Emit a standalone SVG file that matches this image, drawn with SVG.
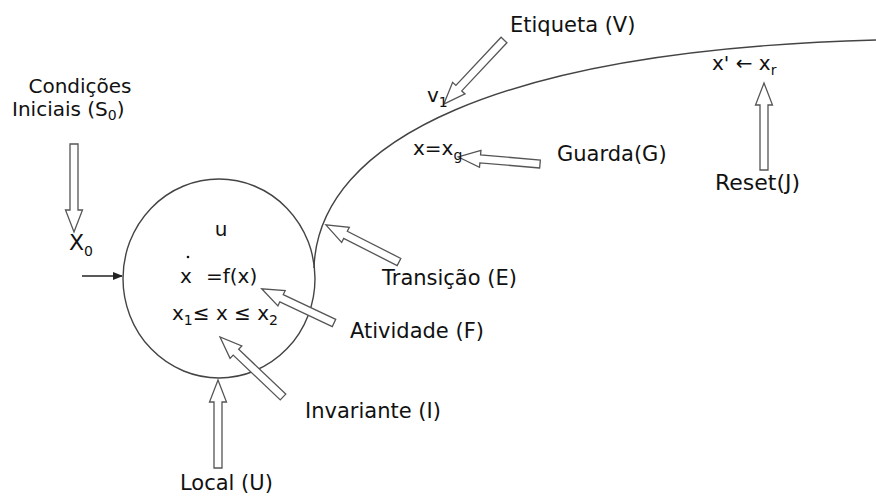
<svg xmlns="http://www.w3.org/2000/svg" width="876" height="498" viewBox="0 0 876 498">
<style>
.t{font-family:"DejaVu Sans","Liberation Sans",sans-serif;font-size:21px;fill:#111}
.m{font-family:"DejaVu Sans","Liberation Sans",sans-serif;font-size:20px;fill:#111}
.s{font-size:14px}
.ha{fill:#fff;stroke:#555;stroke-width:1.3;stroke-linejoin:miter}
.ln{fill:none;stroke:#444;stroke-width:1.4}
</style>
<defs>
<marker id="ah" markerWidth="10" markerHeight="8" refX="9" refY="4" orient="auto" markerUnits="userSpaceOnUse">
<path d="M0,0 L10,4 L0,8 Z" fill="#222"/>
</marker>
</defs>
<rect width="876" height="498" fill="#fff"/>
<g id="connectors">
<path class="ln" d="M314,268 C318,140 500,50 876,40"/>
<line x1="82" y1="276" x2="122" y2="276" stroke="#222" stroke-width="1.3" marker-end="url(#ah)"/>
</g>
<g id="location">
<ellipse class="ln" cx="219" cy="278.5" rx="96" ry="99.5"/>
<text class="m" x="221" y="236" text-anchor="middle">u</text>
<circle cx="188" cy="257" r="1.3" fill="#111"/>
<text class="m" x="180" y="283">x</text>
<text class="m" x="206" y="283">=f(x)</text>
<text class="m" x="172" y="320">x<tspan class="s" dy="5">1</tspan><tspan dy="-5">≤ x ≤ x</tspan><tspan class="s" dy="5">2</tspan></text>
</g>
<g id="initial">
<text class="t" x="80" y="93" text-anchor="middle" style="font-size:20px">Condições</text>
<text class="t" x="12" y="116" style="font-size:20px">Iniciais (S<tspan class="s" dy="4">0</tspan><tspan dy="-4">)</tspan></text>
<polygon class="ha" transform="translate(74,144) rotate(90)" points="0,-4 66,-4 66,-8.5 88,0 66,8.5 66,4 0,4"/>
<text class="m" x="69" y="250" style="font-size:22px">X<tspan class="s" dy="6">0</tspan></text>
</g>
<g id="local">
<polygon class="ha" transform="translate(218,468) rotate(-90)" points="0,-4 66,-4 66,-8.5 88,0 66,8.5 66,4 0,4"/>
<text class="t" x="180" y="490">Local (U)</text>
</g>
<g id="invariante">
<polygon class="ha" transform="translate(283,397) rotate(-136.4)" points="0,-4 65,-4 65,-8.5 87,0 65,8.5 65,4 0,4"/>
<text class="t" x="305" y="418">Invariante (I)</text>
</g>
<g id="atividade">
<polygon class="ha" transform="translate(334,323) rotate(-154.7)" points="0,-4 58,-4 58,-8.5 80,0 58,8.5 58,4 0,4"/>
<text class="t" x="350" y="338">Atividade (F)</text>
</g>
<g id="transicao">
<polygon class="ha" transform="translate(399,262) rotate(-153.1)" points="0,-4 60,-4 60,-8.5 82,0 60,8.5 60,4 0,4"/>
<text class="t" x="382" y="285">Transição (E)</text>
</g>
<g id="guarda">
<polygon class="ha" transform="translate(540,164) rotate(-175.1)" points="0,-4 60,-4 60,-8.5 82,0 60,8.5 60,4 0,4"/>
<text class="m" x="413" y="155">x=x<tspan class="s" dy="5">g</tspan></text>
<text class="t" x="557" y="161">Guarda(G)</text>
</g>
<g id="etiqueta">
<polygon class="ha" transform="translate(504,40) rotate(133.2)" points="0,-4 66,-4 66,-8.5 88,0 66,8.5 66,4 0,4"/>
<text class="m" x="427" y="102">v<tspan class="s" dy="5">1</tspan></text>
<text class="t" x="510" y="32">Etiqueta (V)</text>
</g>
<g id="reset">
<polygon class="ha" transform="translate(764,170) rotate(-90)" points="0,-4 65,-4 65,-8.5 87,0 65,8.5 65,4 0,4"/>
<text class="m" x="712" y="70">x' ← x<tspan class="s" dy="5">r</tspan></text>
<text class="t" x="715" y="190" style="font-size:22px">Reset(J)</text>
</g>
</svg>
